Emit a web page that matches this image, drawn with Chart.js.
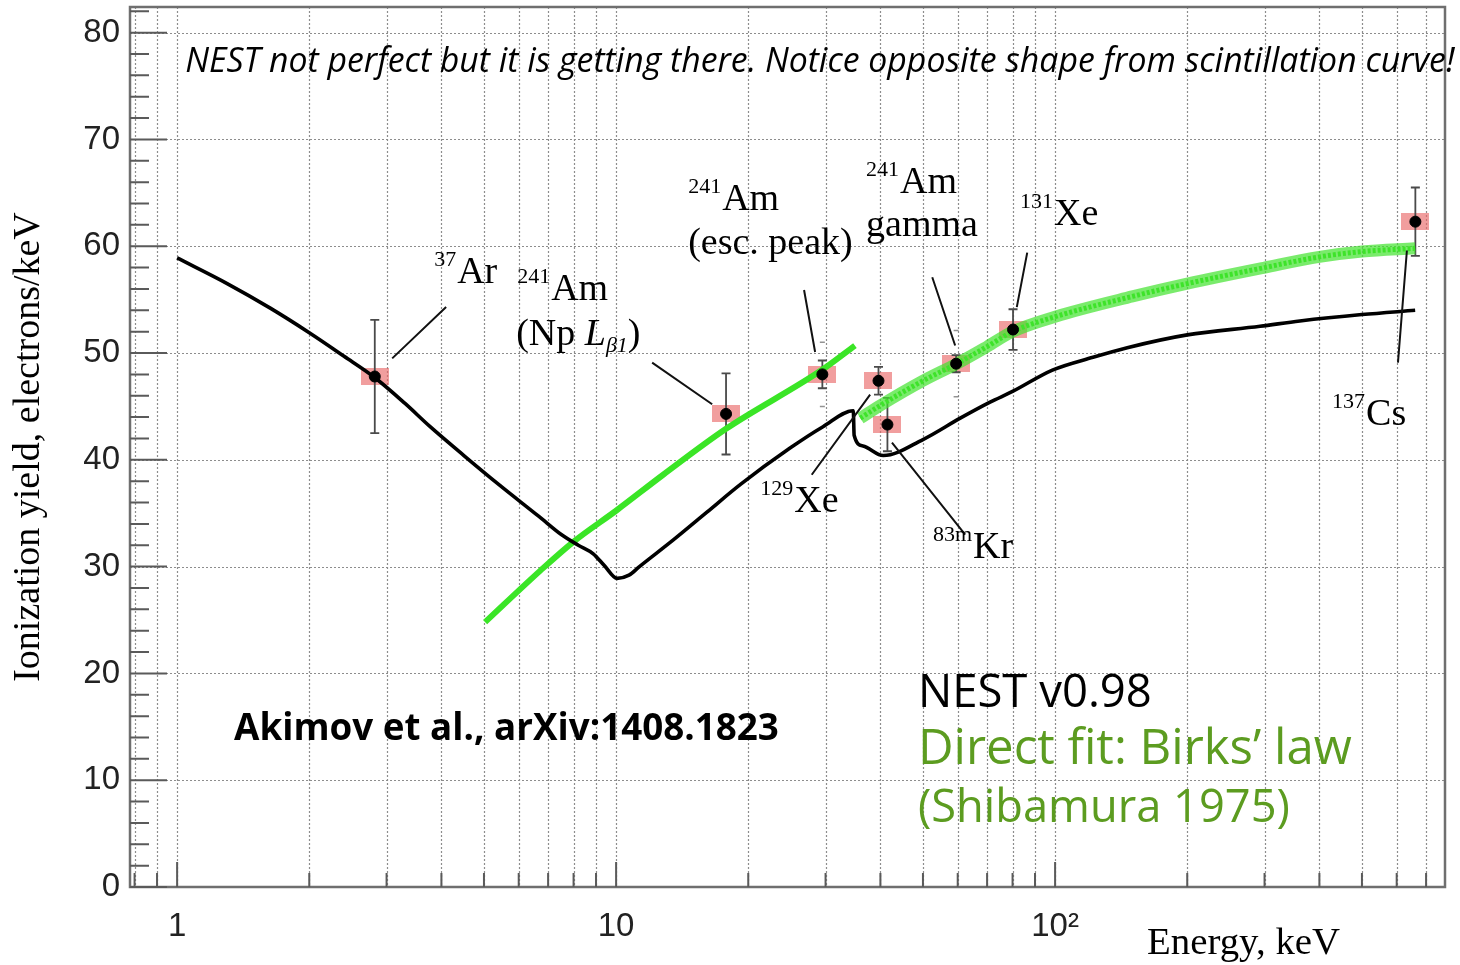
<!DOCTYPE html>
<html><head><meta charset="utf-8">
<script src="https://cdn.jsdelivr.net/npm/chart.js@4.4.1/dist/chart.umd.min.js"></script>
<style>html,body{margin:0;padding:0;background:#fff;}#wrap{width:1460px;height:965px;position:relative;}canvas{display:block;}</style>
</head><body><div id="wrap"><canvas id="c" width="1460" height="965" style="width:1460px;height:965px"></canvas></div>
<script>
// ---- data ----
const nestEnergy = [1, 1.3, 1.63, 2.0, 2.4, 2.8, 3.3, 3.77, 4.5, 5.4, 6.67, 7.5, 8.2, 8.87, 9.4, 10.05, 10.7, 11.3, 13.5, 16.1, 19.2, 24.9, 29.6, 34.7, 34.85, 36.5, 40.6, 50, 60.8, 71.1, 80, 98.6, 122, 146, 200, 293, 361, 500, 661];
const nestYield  = [58.9, 56.5, 54.2, 51.9, 49.7, 47.8, 45.3, 43.1, 40.4, 37.7, 34.7, 33.0, 32.0, 31.2, 30.1, 28.9, 29.2, 30.0, 32.5, 35.1, 37.7, 41.1, 43.1, 44.6, 42.3, 41.3, 40.4, 41.9, 43.9, 45.4, 46.4, 48.4, 49.6, 50.5, 51.7, 52.5, 53.0, 53.6, 54.0];
const birksLowEnergy = [5.03, 6.71, 7.98, 10.05, 12.8, 17.8, 29.4, 35];
const birksLowYield  = [24.8, 29.6, 32.3, 35.3, 38.6, 42.9, 48.4, 50.7];
const birksHighEnergy = [36, 40, 50, 59.7, 70, 80, 100, 150, 200, 300, 400, 500, 661];
const birksHighYield  = [43.9, 45.1, 47.4, 49.0, 50.6, 52.0, 53.4, 55.3, 56.5, 58.0, 59.0, 59.5, 59.8];
const sourceNames  = ['37Ar', '241Am Np Lβ1', '241Am esc. peak', '129Xe', '83mKr', '241Am gamma', '131Xe', '137Cs'];
const sourceEnergy = [2.82, 17.8, 29.5, 39.6, 41.5, 59.5, 80.2, 661.7];
const sourceYield  = [47.8, 44.3, 48.0, 47.4, 43.3, 49.0, 52.2, 62.3];
const sourceErr    = [5.3, 3.8, 1.3, 1.3, 2.5, 0.8, 1.9, 3.2];
const sourceSysErr = [0, 0, 3.0, 0, 0, 3.1, 0, 0];
const yTickValues = [0, 10, 20, 30, 40, 50, 60, 70, 80];
const xTickValues = [1, 10, 100];
const xTickLabels = ['1', '10', '10\u00B2'];
const yTitle = 'Ionization yield, electrons/keV';
const xTitle = 'Energy, keV';

// axis decorations (minor ticks / grid positions)
const yMinorValues = [];
for (let v = 2; v <= 82; v += 2) if (v % 10 !== 0) yMinorValues.push(v);
const xGridValues = [0.8, 0.9];
for (const d of [1, 10, 100]) for (let k = 1; k <= 9; k++) if (k * d < 780) xGridValues.push(k * d);

// ---- annotations (placed in data coordinates) ----
const isoLabels = [
  {E:3.85,  v:56.6,  parts:[['37','sup'],['Ar','main']]},
  {E:5.95,  v:55.0,  parts:[['241','sup'],['Am','main']]},
  {E:5.92,  v:50.75, parts:[['(Np ','main'],['L','it'],['\u03B21','sub'],[')','main']]},
  {E:14.59, v:63.4,  parts:[['241','sup'],['Am','main']]},
  {E:14.59, v:59.25, parts:[['(esc. peak)','main']]},
  {E:37.1,  v:65.0,  parts:[['241','sup'],['Am','main']]},
  {E:37.1,  v:60.95, parts:[['gamma','main']]},
  {E:83.2,  v:62.0,  parts:[['131','sup'],['Xe','main']]},
  {E:21.3,  v:35.1,  parts:[['129','sup'],['Xe','main']]},
  {E:52.7,  v:30.8,  parts:[['83m','sup'],['Kr','main']]},
  {E:427.6, v:43.3,  parts:[['137','sup'],['Cs','main']]}
];
const leaders = [
  [3.09, 49.5, 4.10, 54.3],
  [12.08, 49.1, 16.55, 45.2],
  [26.8, 55.9, 28.4, 50.1],
  [37.9, 46.1, 27.9, 38.6],
  [42.5, 41.6, 62.4, 33.0],
  [52.5, 57.1, 59.2, 50.7],
  [86.4, 59.4, 81.8, 54.3],
  [633, 59.6, 604, 49.1]
];
// text notes: fitted to the width they take in the reference
const notes = [
  {text:'NEST not perfect but it is getting there. Notice opposite shape from scintillation curve!', E:1.043, v:76.3, style:'italic ', family:'"Open Sans"', w:1270, color:'#000'},
  {text:'Akimov et al., arXiv:1408.1823', E:1.348, v:13.8, style:'bold ', family:'"Open Sans"', w:545, color:'#000'},
  {text:'NEST v0.98', E:48.7, v:16.9, style:'', family:'"Open Sans"', w:234, color:'#000'},
  {text:'Direct fit: Birks\u2019 law', E:48.7, v:11.5, style:'', family:'"Open Sans"', w:434, color:'#5c9c20'},
  {text:'(Shibamura 1975)', E:48.7, v:6.1, style:'', family:'"Open Sans"', w:372, color:'#5c9c20'},
  {text:xTitle, E:162, v:-6.3, style:'', family:'"Liberation Serif"', w:193, color:'#000'}
];

const pts = (xs, ys) => xs.map((x, i) => ({x, y: ys[i]}));

// box marker
const box = document.createElement('canvas');
box.width = 28; box.height = 17;
{ const b = box.getContext('2d'); b.fillStyle = 'rgba(232,98,98,0.62)'; b.fillRect(0, 0, 28, 17); }

const SERIF = '"Liberation Serif", "Times New Roman", serif';
const fonts = {
  main: '38px ' + SERIF,
  sup: '22px ' + SERIF,
  it: 'italic 38px ' + SERIF,
  sub: 'italic 22px ' + SERIF
};

const deco = {
  id: 'deco',
  beforeDatasetsDraw(chart) {
    const {ctx, chartArea: a, scales: {x, y}} = chart;
    ctx.save();
    ctx.strokeStyle = 'rgba(135,135,135,0.95)';
    ctx.lineWidth = 1.2;
    ctx.setLineDash([2, 2]);
    ctx.beginPath();
    xGridValues.forEach(v => { const p = Math.round(x.getPixelForValue(v)) + 0.5; ctx.moveTo(p, a.top); ctx.lineTo(p, a.bottom); });
    yTickValues.forEach(v => { if (!v) return; const p = Math.round(y.getPixelForValue(v)) + 0.5; ctx.moveTo(a.left, p); ctx.lineTo(a.right, p); });
    ctx.stroke();
    ctx.restore();
  },
  afterDatasetDraw(chart, args) {
    if (args.index !== 0) return;
    const {ctx, scales: {x, y}} = chart;
    ctx.save();
    sourceEnergy.forEach((e, i) => {
      const px = x.getPixelForValue(e);
      const lo = y.getPixelForValue(sourceYield[i] - sourceErr[i]);
      const hi = y.getPixelForValue(sourceYield[i] + sourceErr[i]);
      ctx.strokeStyle = '#4a4a4a'; ctx.lineWidth = 1.8;
      ctx.beginPath();
      ctx.moveTo(px, lo); ctx.lineTo(px, hi);
      ctx.moveTo(px - 4.5, lo); ctx.lineTo(px + 4.5, lo);
      ctx.moveTo(px - 4.5, hi); ctx.lineTo(px + 4.5, hi);
      ctx.stroke();
      if (sourceSysErr[i]) {
        ctx.strokeStyle = 'rgba(120,120,120,0.8)'; ctx.lineWidth = 1.5;
        const slo = y.getPixelForValue(sourceYield[i] - sourceSysErr[i]);
        const shi = y.getPixelForValue(sourceYield[i] + sourceSysErr[i]);
        ctx.beginPath();
        ctx.moveTo(px - 2.5, slo); ctx.lineTo(px + 2.5, slo);
        ctx.moveTo(px - 2.5, shi); ctx.lineTo(px + 2.5, shi);
        ctx.stroke();
      }
    });
    ctx.restore();
  },
  afterDatasetsDraw(chart) {
    const {ctx, chartArea: a, scales: {x, y}} = chart;
    ctx.save();
    // frame
    ctx.strokeStyle = '#6f6f6f'; ctx.lineWidth = 2.5;
    ctx.strokeRect(a.left, a.top, a.right - a.left, a.bottom - a.top);
    // inward ticks
    ctx.strokeStyle = '#5a5a5a'; ctx.lineWidth = 2;
    ctx.beginPath();
    yTickValues.forEach(v => { const p = y.getPixelForValue(v); ctx.moveTo(a.left, p); ctx.lineTo(a.left + 37, p); });
    yMinorValues.forEach(v => { const p = y.getPixelForValue(v); ctx.moveTo(a.left, p); ctx.lineTo(a.left + 19, p); });
    xGridValues.forEach(v => {
      const p = x.getPixelForValue(v);
      const len = xTickValues.includes(v) ? 25 : 14;
      ctx.moveTo(p, a.bottom); ctx.lineTo(p, a.bottom - len);
    });
    ctx.stroke();
    // leader lines
    ctx.strokeStyle = '#111'; ctx.lineWidth = 2;
    ctx.beginPath();
    leaders.forEach(l => {
      ctx.moveTo(x.getPixelForValue(l[0]), y.getPixelForValue(l[1]));
      ctx.lineTo(x.getPixelForValue(l[2]), y.getPixelForValue(l[3]));
    });
    ctx.stroke();
    // isotope labels
    ctx.fillStyle = '#000';
    ctx.textBaseline = 'alphabetic';
    ctx.textAlign = 'left';
    isoLabels.forEach(lab => {
      let px = x.getPixelForValue(lab.E);
      const py = y.getPixelForValue(lab.v);
      lab.parts.forEach(([t, kind]) => {
        ctx.font = fonts[kind];
        const dy = kind === 'sup' ? -17 : (kind === 'sub' ? 7 : 0);
        ctx.fillText(t, px, py + dy);
        px += ctx.measureText(t).width + (kind === 'sup' ? 1 : 0);
      });
    });
    // notes
    notes.forEach(n => {
      ctx.font = n.style + '40px ' + n.family;
      const size = 40 * n.w / ctx.measureText(n.text).width;
      ctx.font = n.style + size.toFixed(2) + 'px ' + n.family;
      ctx.fillStyle = n.color;
      ctx.fillText(n.text, x.getPixelForValue(n.E), y.getPixelForValue(n.v));
    });
    ctx.restore();
  }
};

const noPad = s => { s.paddingTop = 0; s.paddingBottom = 0; s.paddingLeft = 0; s.paddingRight = 0; };

new Chart(document.getElementById('c'), {
  type: 'scatter',
  data: {
    datasets: [
      {label: 'sources', data: pts(sourceEnergy, sourceYield), pointStyle: box, pointRadius: 14, order: 10},
      {label: 'Birks low', data: pts(birksLowEnergy, birksLowYield), showLine: true, pointRadius: 0,
       borderColor: '#3ae526', borderWidth: 6, cubicInterpolationMode: 'monotone', order: 8},
      {label: 'Birks high band', data: pts(birksHighEnergy, birksHighYield), showLine: true, pointRadius: 0,
       borderColor: 'rgba(66,226,46,0.7)', borderWidth: 12, cubicInterpolationMode: 'monotone', order: 7},
      {label: 'Birks high', data: pts(birksHighEnergy, birksHighYield), showLine: true, pointRadius: 0,
       borderColor: '#36e322', borderWidth: 5, borderDash: [3, 2], cubicInterpolationMode: 'monotone', order: 7},
      {label: 'NEST v0.98', data: pts(nestEnergy, nestYield), showLine: true, pointRadius: 0,
       borderColor: '#000', borderWidth: 3.6, cubicInterpolationMode: 'monotone', order: 6},
      {label: 'points', data: pts(sourceEnergy, sourceYield), pointRadius: 5.5, pointBackgroundColor: '#000',
       pointBorderColor: '#000', order: 1}
    ]
  },
  options: {
    responsive: false,
    animation: false,
    devicePixelRatio: 1,
    layout: {autoPadding: false, padding: {top: 7, right: 15, left: 0, bottom: 0}},
    plugins: {legend: {display: false}, tooltip: {enabled: false}},
    scales: {
      x: {
        type: 'logarithmic', min: 0.781, max: 773,
        afterBuildTicks: s => { s.ticks = xTickValues.map(v => ({value: v})); },
        afterFit: s => { s.height = 78; noPad(s); },
        grid: {display: false, drawTicks: false},
        border: {display: false},
        ticks: {
          autoSkip: false, maxRotation: 0, padding: 20,
          color: '#222', font: {family: 'Liberation Sans', size: 33},
          callback: (v) => { const i = xTickValues.indexOf(v); return i >= 0 ? xTickLabels[i] : ''; }
        }
      },
      y: {
        type: 'linear', min: 0, max: 82.4,
        afterBuildTicks: s => { s.ticks = yTickValues.map(v => ({value: v})); },
        afterFit: s => { s.width = 130; noPad(s); },
        grid: {display: false, drawTicks: false},
        border: {display: false},
        ticks: {padding: 10, color: '#222', font: {family: 'Liberation Sans', size: 33}},
        title: {display: true, text: yTitle, color: '#000', font: {family: 'Liberation Serif', size: 38}, padding: {top: 6, bottom: 0}}
      }
    }
  },
  plugins: [deco]
});
</script>
</body></html>
